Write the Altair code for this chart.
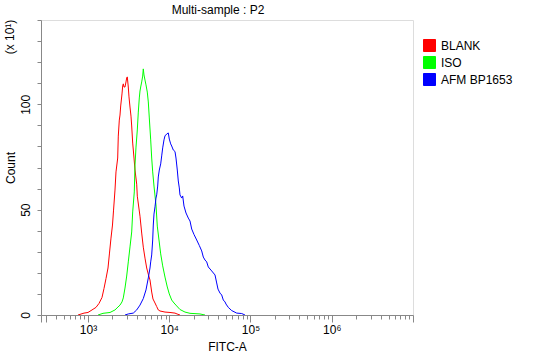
import altair as alt
import pandas as pd

# ---------------- data ----------------
series_names = ["BLANK", "ISO", "AFM BP1653"]
series_colors = ["#FF0000", "#00FF00", "#0000FF"]

blank_fitc = [753, 893, 1000, 1120, 1254, 1366, 1487, 1574, 1666, 1763, 1839, 1919, 2002, 2060,
              2149, 2211, 2320, 2360, 2428, 2477, 2526, 2621, 2673, 2719, 2774, 2853, 2935, 2994,
              3045, 3133, 3196, 3288, 3382, 3450, 3549, 3684, 3790, 3976, 4045, 4365, 4580, 4793,
              5029, 5278, 5553, 5795, 6081, 6310, 6677, 7006, 7331, 7694, 8866, 10214, 11770,
              12456, 13562]
blank_count = [0, 0.9, 1.2, 2.4, 3.6, 5.5, 8.3, 12.6, 17.3, 22.3, 29.4, 36.5, 42.7, 49.4,
               59.3, 67.9, 74.5, 84.9, 92.5, 94.9, 99.2, 104.9, 108.7, 109.7, 108.2, 108.2, 110.6,
               112.5, 113.0, 108.2, 103.5, 98.7, 94.4, 89.7, 81.6, 74.5, 68.8, 62.1, 56.4, 46.9,
               38.9, 32.2, 27.0, 22.3, 19.0, 16.6, 10.9, 7.6, 5.7, 4.0, 2.4, 1.9, 1.4, 1.2, 0.9,
               0.5, 0]

iso_fitc = [1328, 1530, 1866, 2149, 2340, 2477, 2621, 2719, 2853, 2994, 3133, 3288, 3450, 3549,
            3714, 3790, 3898, 4045, 4160, 4280, 4365, 4452, 4580, 4712, 4793, 4889, 5029, 5174,
            5368, 5524, 5682, 5912, 6081, 6256, 6491, 6869, 7127, 7479, 7849, 8306, 8866, 9462,
            10014, 10720, 11443, 12351, 13562, 15620, 18008, 23900, 27542]
iso_count = [0, 0.8, 1.2, 2.4, 3.8, 4.7, 6.2, 8.1, 12.8, 18.5, 25.2, 32.3, 39.4, 48.9,
             58.4, 71.2, 79.7, 87.8, 96.3, 103.0, 106.3, 108.2, 110.6, 113.4, 116.8, 113.9, 111.5,
             109.2, 105.8, 101.1, 93.5, 83.1, 74.5, 67.9, 61.2, 52.2, 42.2, 35.6, 29.0, 23.3,
             18.0, 13.3, 10.0, 7.1, 5.7, 4.3, 2.6, 1.4, 0.8, 0.5, 0]

afm_fitc = [2853, 3133, 3610, 3976, 4365, 4793, 5174, 5524, 5795, 5912, 6081, 6256, 6363, 6491,
            6677, 6869, 7006, 7208, 7331, 7543, 7849, 8074, 8306, 8618, 8866, 9303, 9734, 10014,
            10418, 10720, 11215, 11770, 12107, 12561, 12922, 13296, 13562, 14230, 14640, 15190,
            16080, 17160, 18008, 18895, 20170, 21770, 23430, 25090, 26250, 27542, 28900, 30240,
            33310, 36570, 38370, 39810, 42120, 44210, 46270, 48560, 49940, 53320, 58690, 67650,
            77940, 85560]
afm_count = [0, 0.5, 0.9, 2.4, 4.7, 7.8, 11.9, 17.6, 22.3, 25.2, 28.5, 35.6, 42.7, 47.9,
             51.3, 55.5, 57.0, 61.2, 65.5, 68.8, 71.7, 75.5, 79.3, 83.1, 85.0, 85.9, 86.4, 83.5,
             81.2, 80.2, 78.3, 77.6, 74.5, 68.8, 63.6, 60.3, 57.0, 55.5, 56.5, 51.7,
             48.4, 46.0, 44.6, 40.8, 38.2, 35.6, 33.0, 30.4, 27.5, 26.1, 25.2, 22.8,
             20.9, 19.0, 15.2, 12.3, 10.4, 9.5, 7.1, 6.2, 5.2, 3.6, 2.1, 0.9,
             0.7, 0]

x_domain = [264, 10000000]
y_domain = [0, 140]
x_major_ticks = [1000, 10000, 100000, 1000000, 10000000]
x_minor_ticks = [300, 400, 500, 600, 700, 800, 900,
                 2000, 3000, 4000, 5000, 6000, 7000, 8000, 9000,
                 20000, 30000, 40000, 50000, 60000, 70000, 80000, 90000,
                 200000, 300000, 400000, 500000, 600000, 700000, 800000, 900000,
                 2000000, 3000000, 4000000, 5000000, 6000000, 7000000, 8000000, 9000000]
y_ticks = [0, 10, 20, 30, 40, 50, 60, 70, 80, 90, 100, 110, 120, 130, 140]

title_text = ["Multi-sample : P2"]
x_title = "FITC-A"
y_title = "Count"
y_multiplier = ["(x 10\u00b9)"]

FONT = "Liberation Sans"

# ---------------- table ----------------
rows = []
for name, xs, ys in zip(series_names,
                        [blank_fitc, iso_fitc, afm_fitc],
                        [blank_count, iso_count, afm_count]):
    for i, (a, b) in enumerate(zip(xs, ys)):
        rows.append({"series": name, "fitc": a, "count": b, "idx": i})
df = pd.DataFrame(rows)

xscale = alt.Scale(type="log", domain=x_domain, nice=False)
yscale = alt.Scale(domain=y_domain, nice=False, zero=True)
cscale = alt.Scale(domain=series_names, range=series_colors)

major_test = "datum.value <= 300 || abs(log(datum.value)/LN10 - round(log(datum.value)/LN10)) < 0.001"

x_axis = alt.Axis(
    values=sorted(x_minor_ticks + x_major_ticks + [x_domain[0]]),
    labelExpr="abs(log(datum.value)/LN10 - round(log(datum.value)/LN10)) < 0.001 && datum.value < 5000000 ? '10' + ['\u2070','\u00b9','\u00b2','\u00b3','\u2074','\u2075','\u2076','\u2077'][round(log(datum.value)/LN10)] : ''",
    tickSize={"condition": {"test": major_test, "value": 7}, "value": 4},
    labelBaseline="alphabetic", labelPadding=11, labelFontSize=12, labelFont=FONT,
    labelOverlap=False, labelFlush=False,
    grid=False, title=x_title, titleFont=FONT, titleFontSize=12, titleFontWeight="normal",
    titleX=186, titleY=35, titleBaseline="alphabetic", titleAnchor="middle",
)
y_axis = alt.Axis(
    values=y_ticks,
    labelExpr="datum.value % 50 === 0 ? datum.label : ''",
    tickSize=4, labelAngle=270, labelAlign="center", labelBaseline="middle",
    labelPadding=12, labelFontSize=12, labelFont=FONT, labelOverlap=False, labelFlush=False,
    grid=False, title=y_title, titleFont=FONT, titleFontSize=12, titleFontWeight="normal",
    titleAngle=270, titleX=-31, titleY=147.5, titleBaseline="middle", titleAlign="center",
)

legend_layer = alt.Chart(df).transform_filter("false").mark_square(filled=True, opacity=1).encode(
    color=alt.Color("series:N", scale=cscale, legend=alt.Legend(
        title=None, orient="none", legendX=382, legendY=19, padding=0,
        symbolType="square", symbolSize=144, symbolStrokeColor="black",
        symbolStrokeWidth=1, symbolOpacity=1,
        labelFont=FONT, labelFontSize=12, labelColor="black", labelOffset=5,
        rowPadding=0,
    )),
)

lines = alt.Chart(df).mark_line(strokeWidth=1, clip=True, interpolate="linear").encode(
    x=alt.X("fitc:Q", scale=xscale, axis=x_axis),
    y=alt.Y("count:Q", scale=yscale, axis=y_axis),
    color=alt.Color("series:N", scale=cscale),
    order="idx:Q",
    detail="series:N",
)

note = alt.Chart(pd.DataFrame({"t": y_multiplier})).mark_text(
    angle=270, font=FONT, fontSize=12, align="center", baseline="middle", color="black"
).encode(text="t:N", x=alt.value(-31), y=alt.value(17))

head = alt.Chart(pd.DataFrame({"t": title_text})).mark_text(
    font=FONT, fontSize=12, align="center", baseline="alphabetic", color="black"
).encode(text="t:N", x=alt.value(177), y=alt.value(-6))

chart = alt.layer(legend_layer, lines, note, head).properties(
    width=372, height=295,
    autosize=alt.AutoSizeParams(type="none"),
    padding={"left": 41, "top": 20, "right": 137, "bottom": 39},
).configure_view(stroke="black", strokeWidth=1).configure_axis(
    domainColor="black", tickColor="black", labelColor="black", titleColor="black",
    domainWidth=1, tickWidth=1,
).configure(background="white")

chart.save("out.html", embed_options={"renderer": "svg", "actions": False})
